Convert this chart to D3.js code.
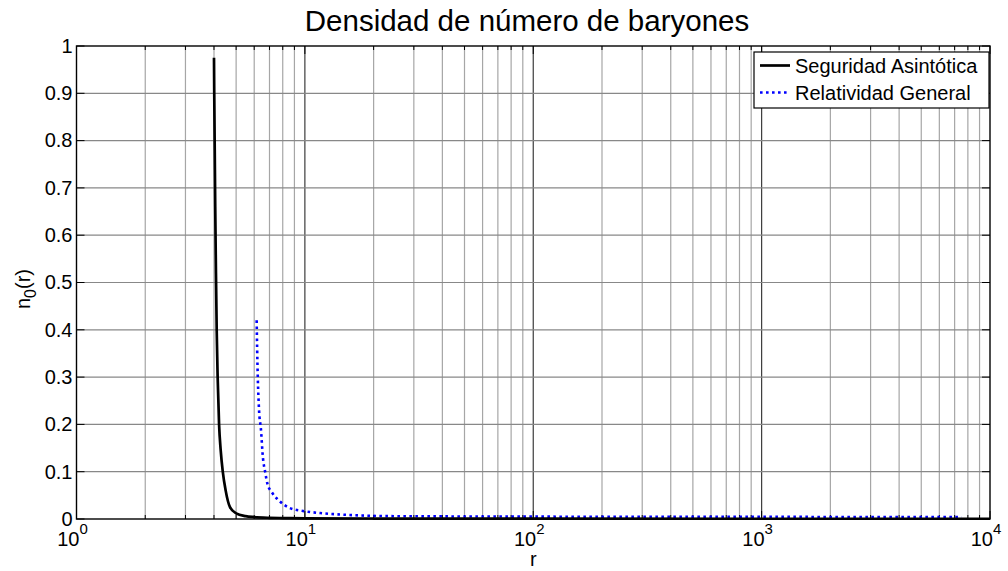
<!DOCTYPE html>
<html>
<head>
<meta charset="utf-8">
<script src="https://cdn.jsdelivr.net/npm/d3@7/dist/d3.min.js"></script>
<style>
  html, body { margin: 0; padding: 0; background: #fff; }
  svg { display: block; font-family: "Liberation Sans", Arial, sans-serif; }
</style>
</head>
<body>
<svg id="chart" width="1008" height="571"></svg>
<script>
// Baryon number density profiles n0(r)
const rSA = [4.0, 4.01, 4.03, 4.05, 4.08, 4.11, 4.15, 4.21, 4.28, 4.37, 4.5, 4.7, 5.0, 5.5, 6.0, 7.0, 8.0, 10, 20, 50, 100, 1000, 10000];
const nSA = [0.975, 0.90, 0.78, 0.66, 0.52, 0.40, 0.30, 0.20, 0.145, 0.10, 0.06, 0.025, 0.012, 0.006, 0.004, 0.0025, 0.002, 0.0015, 0.001, 0.0008, 0.0006, 0.0005, 0.0005];

const rRG = [6.15, 6.18, 6.22, 6.3, 6.42, 6.55, 6.7, 6.85, 7.23, 7.78, 8.61, 9.81, 12, 15.7, 23.6, 40, 100, 1000, 7500];
const nRG = [0.42, 0.36, 0.30, 0.23, 0.19, 0.13, 0.10, 0.075, 0.054, 0.037, 0.023, 0.017, 0.012, 0.0085, 0.006, 0.0055, 0.005, 0.0045, 0.004];

const seriesNames = ["Seguridad Asintótica", "Relatividad General"];
const yTicks = [0, 0.1, 0.2, 0.3, 0.4, 0.5, 0.6, 0.7, 0.8, 0.9, 1];
const yTickLabels = ["0", "0.1", "0.2", "0.3", "0.4", "0.5", "0.6", "0.7", "0.8", "0.9", "1"];
const xDecades = [1, 10, 100, 1000, 10000];
const xExponents = ["0", "1", "2", "3", "4"];

const svg = d3.select("#chart");
const pL = 76.5, pR = 990, pT = 46, pB = 519;

const x = d3.scaleLog().domain([1, 10000]).range([pL, pR]);
const y = d3.scaleLinear().domain([0, 1]).range([pB, pT]);

// minor decade positions 2..9 within each decade
const minor = [];
for (let d = 0; d < xDecades.length - 1; d++) {
  for (let k = 2; k <= 9; k++) minor.push(xDecades[d] * k);
}

const grid = svg.append("g");
grid.selectAll("line.minor").data(minor).join("line")
  .attr("x1", d => x(d)).attr("x2", d => x(d))
  .attr("y1", pT).attr("y2", pB)
  .attr("stroke", "#a6a6a6").attr("stroke-width", 1.2);
grid.selectAll("line.major").data(xDecades.slice(1, -1)).join("line")
  .attr("x1", d => x(d)).attr("x2", d => x(d))
  .attr("y1", pT).attr("y2", pB)
  .attr("stroke", "#3c3c3c").attr("stroke-width", 1.2);
grid.selectAll("line.h").data(yTicks.slice(1, -1)).join("line")
  .attr("x1", pL).attr("x2", pR)
  .attr("y1", d => y(d)).attr("y2", d => y(d))
  .attr("stroke", "#888").attr("stroke-width", 1.2);

// axes with inward ticks
const tickG = svg.append("g").attr("stroke", "#000").attr("stroke-width", 1);
minor.forEach(v => {
  tickG.append("line").attr("x1", x(v)).attr("x2", x(v)).attr("y1", pB).attr("y2", pB - 4);
  tickG.append("line").attr("x1", x(v)).attr("x2", x(v)).attr("y1", pT).attr("y2", pT + 4);
});
xDecades.forEach(v => {
  tickG.append("line").attr("x1", x(v)).attr("x2", x(v)).attr("y1", pB).attr("y2", pB - 8);
  tickG.append("line").attr("x1", x(v)).attr("x2", x(v)).attr("y1", pT).attr("y2", pT + 8);
});
yTicks.forEach(v => {
  tickG.append("line").attr("x1", pL).attr("x2", pL + 8).attr("y1", y(v)).attr("y2", y(v));
  tickG.append("line").attr("x1", pR).attr("x2", pR - 8).attr("y1", y(v)).attr("y2", y(v));
});

// curves
const line = d3.line()
  .x(d => x(d[0])).y(d => y(d[1]))
  .curve(d3.curveMonotoneX);

svg.append("path")
  .datum(d3.zip(rRG, nRG))
  .attr("d", line)
  .attr("fill", "none").attr("stroke", "#0000ff")
  .attr("stroke-width", 2.6).attr("stroke-dasharray", "2.6,3.4");

svg.append("path")
  .datum(d3.zip(rSA, nSA))
  .attr("d", line)
  .attr("fill", "none").attr("stroke", "#000")
  .attr("stroke-width", 2.7);

// frame
svg.append("rect")
  .attr("x", pL).attr("y", pT)
  .attr("width", pR - pL).attr("height", pB - pT)
  .attr("fill", "none").attr("stroke", "#000").attr("stroke-width", 1.4);

// y tick labels
svg.append("g").selectAll("text").data(yTicks).join("text")
  .attr("x", pL - 4).attr("y", d => y(d))
  .attr("dy", "0.34em").attr("text-anchor", "end")
  .attr("font-size", 20).text((d, i) => yTickLabels[i]);

// x tick labels: 10^k
const xl = svg.append("g").selectAll("text").data(xDecades).join("text")
  .attr("x", d => x(d) - 4).attr("y", 546)
  .attr("text-anchor", "middle").attr("font-size", 20);
xl.append("tspan").text("10");
xl.append("tspan").attr("dy", -12).attr("font-size", 15).text((d, i) => xExponents[i]);

// axis labels
svg.append("text").attr("x", x(100)).attr("y", 566)
  .attr("text-anchor", "middle").attr("font-size", 20).text("r");

const yl = svg.append("text")
  .attr("transform", `translate(30, 289) rotate(-90)`)
  .attr("text-anchor", "middle").attr("font-size", 20);
yl.append("tspan").text("n");
yl.append("tspan").attr("dy", 6).attr("font-size", 16).text("0");
yl.append("tspan").attr("dy", -6).text("(r)");

// title
svg.append("text").attr("x", 527).attr("y", 31)
  .attr("text-anchor", "middle").attr("font-size", 29.5)
  .text("Densidad de número de baryones");

// legend
const lg = svg.append("g");
lg.append("rect").attr("x", 754).attr("y", 52).attr("width", 235).attr("height", 56)
  .attr("fill", "#fff").attr("stroke", "#000").attr("stroke-width", 1.2);
lg.append("line").attr("x1", 760).attr("x2", 790).attr("y1", 65.5).attr("y2", 65.5)
  .attr("stroke", "#000").attr("stroke-width", 2.7);
lg.append("line").attr("x1", 760).attr("x2", 790).attr("y1", 92.5).attr("y2", 92.5)
  .attr("stroke", "#0000ff").attr("stroke-width", 2.6).attr("stroke-dasharray", "2.6,3.4");
lg.append("text").attr("x", 795).attr("y", 72.5).attr("font-size", 20).text(seriesNames[0]);
lg.append("text").attr("x", 795).attr("y", 99.5).attr("font-size", 20).text(seriesNames[1]);
</script>
</body>
</html>
